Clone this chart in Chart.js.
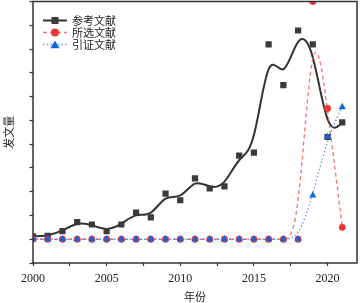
<!DOCTYPE html>
<html>
<head>
<meta charset="utf-8">
<script src="https://cdn.jsdelivr.net/npm/chart.js@4/dist/chart.umd.min.js"></script>
<style>
  html, body { margin: 0; padding: 0; background: #fff; }
  #wrap { width: 363px; height: 303px; }
</style>
</head>
<body>
<div id="wrap"><canvas id="pubChart" width="363" height="303"></canvas></div>
<script>
// data (y has no labels, arbitrary units)
var years = [2000, 2001, 2002, 2003, 2004, 2005, 2006, 2007, 2008, 2009, 2010,
             2011, 2012, 2013, 2014, 2015, 2016, 2017, 2018, 2019, 2020, 2021];
var refCounts = [0.6, 0.7, 1.7, 3.6, 3.1, 1.7, 3.1, 5.6, 4.6, 9.6, 8.2,
                 12.8, 10.7, 11.1, 17.6, 18.2, 41.0, 32.4, 43.9, 41.0, 21.5, 24.6];
var selCounts = [0, 0, 0, 0, 0, 0, 0, 0, 0, 0, 0,
                 0, 0, 0, 0, 0, 0, 0, 0, 50, 27.5, 2.5];
var citeCounts = [0, 0, 0, 0, 0, 0, 0, 0, 0, 0, 0,
                  0, 0, 0, 0, 0, 0, 0, 0, 9.2, 21.5, 27.8];
var seriesNames = ['参考文献', '所选文献', '引证文献'];
var xTickLabels = ['2000', '2005', '2010', '2015', '2020'];

function pairs(vals) {
    return years.map(function (y, i) { return { x: y, y: vals[i] }; });
}

// clamped uniform cubic B-spline through the points of every dataset
var bsplinePlugin = {
    id: 'bspline',
    beforeDatasetsDraw: function (chart) {
        var ctx = chart.ctx, a = chart.chartArea;
        ctx.save();
        ctx.beginPath();
        ctx.rect(a.left, a.top, a.right - a.left, a.bottom - a.top);
        ctx.clip();
        chart.data.datasets.forEach(function (ds, i) {
            var pts = chart.getDatasetMeta(i).data.map(function (p) { return { x: p.x, y: p.y }; });
            var n = pts.length;
            var P = [pts[0], pts[0]].concat(pts, [pts[n - 1], pts[n - 1]]);
            ctx.beginPath();
            for (var k = 0; k + 3 < P.length; k++) {
                var p0 = P[k], p1 = P[k + 1], p2 = P[k + 2], p3 = P[k + 3];
                if (k === 0) ctx.moveTo((p0.x + 4 * p1.x + p2.x) / 6, (p0.y + 4 * p1.y + p2.y) / 6);
                ctx.bezierCurveTo(
                    (4 * p1.x + 2 * p2.x) / 6, (4 * p1.y + 2 * p2.y) / 6,
                    (2 * p1.x + 4 * p2.x) / 6, (2 * p1.y + 4 * p2.y) / 6,
                    (p1.x + 4 * p2.x + p3.x) / 6, (p1.y + 4 * p2.y + p3.y) / 6);
            }
            ctx.strokeStyle = ds.curveColor;
            ctx.lineWidth = ds.curveWidth;
            ctx.setLineDash(ds.curveDash);
            ctx.stroke();
        });
        ctx.restore();
    }
};

function marker(ctx, style, r, x, y) {
    ctx.beginPath();
    if (style === 'rect') {
        var s = r * Math.SQRT1_2;
        ctx.rect(x - s, y - s, 2 * s, 2 * s);
    } else if (style === 'circle') {
        ctx.arc(x, y, r, 0, Math.PI * 2);
    } else {
        for (var j = 0; j < 3; j++) {
            var ang = j * 2 * Math.PI / 3;
            var px = x + Math.sin(ang) * r * 1.1, py = y - Math.cos(ang) * r * 1.1 + r * 0.25;
            if (j === 0) ctx.moveTo(px, py); else ctx.lineTo(px, py);
        }
        ctx.closePath();
    }
    ctx.fill();
}

var boxLegendPlugin = {
    id: 'boxLegend',
    afterDatasetsDraw: function (chart) {
        var ctx = chart.ctx, a = chart.chartArea;
        ctx.save();
        // full frame
        ctx.strokeStyle = '#333';
        ctx.lineWidth = 1.5;
        ctx.setLineDash([]);
        ctx.strokeRect(a.left, a.top, a.right - a.left, a.bottom - a.top);
        // legend in upper-left corner
        chart.data.datasets.forEach(function (ds, i) {
            var y = a.top + 19 + i * 12;
            var x0 = a.left + 10, x1 = a.left + 34;
            ctx.beginPath();
            ctx.moveTo(x0, y); ctx.lineTo(x1, y);
            ctx.strokeStyle = ds.curveColor;
            ctx.lineWidth = ds.curveWidth;
            ctx.setLineDash(ds.curveDash);
            ctx.stroke();
            ctx.setLineDash([]);
            ctx.fillStyle = ds.backgroundColor;
            marker(ctx, ds.pointStyle, ds.pointRadius + 0.6, (x0 + x1) / 2, y);
            ctx.fillStyle = '#222';
            ctx.font = '11px "Noto Sans CJK SC"';
            ctx.textBaseline = 'middle';
            ctx.fillText(ds.label, x1 + 5, y);
        });
        ctx.restore();
    }
};

document.addEventListener('DOMContentLoaded', function () {
    var ctx = document.getElementById('pubChart').getContext('2d');

    var pubChart = new Chart(ctx, {
        type: 'scatter',
        data: {
            datasets: [{
                label: seriesNames[0],
                data: pairs(refCounts),
                order: 3,
                pointStyle: 'rect',
                pointRadius: 4.4,
                backgroundColor: '#3b3b3b',
                borderWidth: 0,
                curveColor: '#333333',
                curveWidth: 2,
                curveDash: []
            }, {
                label: seriesNames[1],
                data: pairs(selCounts),
                order: 2,
                pointStyle: 'circle',
                pointRadius: 3.4,
                backgroundColor: '#f03535',
                borderWidth: 0,
                curveColor: 'rgba(240, 90, 90, 0.85)',
                curveWidth: 1.3,
                curveDash: [4, 3]
            }, {
                label: seriesNames[2],
                data: pairs(citeCounts),
                order: 1,
                pointStyle: 'triangle',
                pointRadius: 4.2,
                backgroundColor: '#1565d8',
                borderWidth: 0,
                curveColor: 'rgba(80, 135, 230, 0.85)',
                curveWidth: 1.3,
                curveDash: [1.5, 2.2]
            }]
        },
        options: {
            responsive: false,
            animation: false,
            layout: { autoPadding: false, padding: { top: 1.5, right: 6, left: 0, bottom: 0 } },
            plugins: {
                legend: { display: false },
                tooltip: { enabled: false }
            },
            scales: {
                x: {
                    type: 'linear',
                    min: 2000,
                    max: 2022,
                    afterFit: function (scale) { scale.height = 40; },
                    border: { display: false },
                    grid: {
                        drawOnChartArea: false,
                        drawTicks: true,
                        tickLength: 3,
                        tickColor: '#333',
                        tickWidth: 1.2
                    },
                    ticks: {
                        stepSize: 2.5,
                        includeBounds: false,
                        autoSkip: false,
                        maxRotation: 0,
                        padding: 6,
                        color: '#222',
                        font: { family: '"Liberation Serif"', size: 12 },
                        callback: function (value) {
                            var s = String(value);
                            return xTickLabels.indexOf(s) >= 0 ? s : '';
                        }
                    },
                    title: {
                        display: true,
                        text: '年份',
                        color: '#222',
                        padding: { top: 0, bottom: 0 },
                        font: { family: '"Noto Sans CJK SC"', size: 11 }
                    }
                },
                y: {
                    min: -5,
                    max: 50,
                    afterFit: function (scale) {
                        scale.width = 33;
                        scale.paddingTop = 0;
                        scale.paddingBottom = 0;
                    },
                    border: { display: false },
                    grid: {
                        drawOnChartArea: false,
                        drawTicks: true,
                        tickLength: 3.5,
                        tickColor: '#333',
                        tickWidth: 1.2
                    },
                    ticks: {
                        display: false,
                        stepSize: 5
                    },
                    title: {
                        display: true,
                        text: '发文量',
                        color: '#222',
                        padding: { top: 2, bottom: 0 },
                        font: { family: '"Noto Sans CJK SC"', size: 11 }
                    }
                }
            }
        },
        plugins: [bsplinePlugin, boxLegendPlugin]
    });
});
</script>
</body>
</html>
